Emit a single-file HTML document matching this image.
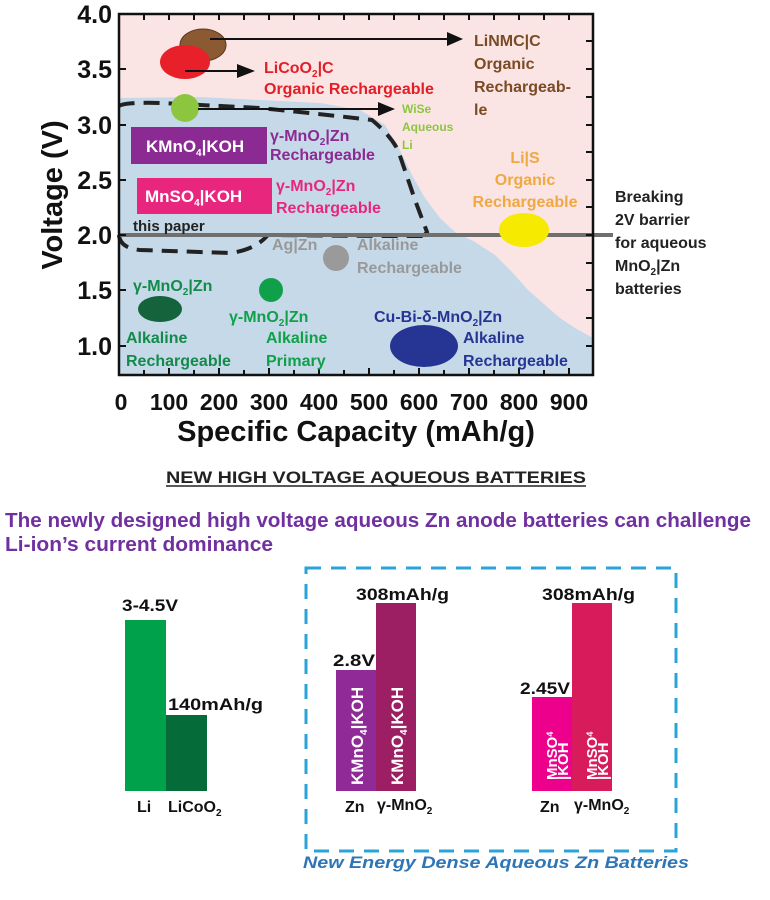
<!DOCTYPE html>
<html><head><meta charset="utf-8"><style>
html,body{margin:0;padding:0;background:#fff;}
svg{display:block;font-family:"Liberation Sans",Arial,sans-serif;font-weight:bold;}
</style></head><body>
<svg width="770" height="900" viewBox="0 0 770 900" xmlns="http://www.w3.org/2000/svg">
<rect x="119" y="14" width="474" height="361" fill="#fbe4e4"/>
<path d="M119,98 L200,97 L260,100 L320,103 L360,110 L385,125 L400,150 L412,175 L425,198 L440,218 L455,232 L475,242 L495,255 L512,272 L528,290 L545,305 L560,318 L575,328 L593,338 L593,375 L119,375 Z" fill="#c6d9e9"/>
<path d="M119,106 Q125,102 160,103 L260,108 Q330,115 372,120 Q390,135 398,150 L415,200 L427,232 L424,236" fill="none" stroke="#222" stroke-width="4" stroke-dasharray="16,9"/>
<path d="M119,235 Q120,248 140,250 L230,253 Q255,250 268,235 L380,236 L424,236" fill="none" stroke="#222" stroke-width="4" stroke-dasharray="16,9"/>
<line x1="119" y1="235" x2="613" y2="235" stroke="#6f6f70" stroke-width="4"/>
<rect x="119" y="14" width="474" height="361" fill="none" stroke="#111" stroke-width="2.5"/>
<g stroke="#111" stroke-width="2">
<line x1="119" y1="14" x2="126" y2="14"/><line x1="119" y1="69" x2="126" y2="69"/><line x1="119" y1="125" x2="126" y2="125"/><line x1="119" y1="180" x2="126" y2="180"/><line x1="119" y1="235" x2="126" y2="235"/><line x1="119" y1="290" x2="126" y2="290"/><line x1="119" y1="346" x2="126" y2="346"/>
<line x1="593" y1="41" x2="586" y2="41"/><line x1="593" y1="69" x2="586" y2="69"/><line x1="593" y1="97" x2="586" y2="97"/><line x1="593" y1="125" x2="586" y2="125"/><line x1="593" y1="152" x2="586" y2="152"/><line x1="593" y1="180" x2="586" y2="180"/><line x1="593" y1="207" x2="586" y2="207"/><line x1="593" y1="235" x2="586" y2="235"/><line x1="593" y1="263" x2="586" y2="263"/><line x1="593" y1="290" x2="586" y2="290"/><line x1="593" y1="318" x2="586" y2="318"/><line x1="593" y1="346" x2="586" y2="346"/>
</g>
<g stroke="#111" stroke-width="2">
<line x1="144" y1="375" x2="144" y2="370"/><line x1="169" y1="375" x2="169" y2="368"/><line x1="194" y1="375" x2="194" y2="370"/><line x1="219" y1="375" x2="219" y2="368"/><line x1="244" y1="375" x2="244" y2="370"/><line x1="269" y1="375" x2="269" y2="368"/><line x1="294" y1="375" x2="294" y2="370"/><line x1="319" y1="375" x2="319" y2="368"/><line x1="344" y1="375" x2="344" y2="370"/><line x1="369" y1="375" x2="369" y2="368"/><line x1="394" y1="375" x2="394" y2="370"/><line x1="419" y1="375" x2="419" y2="368"/><line x1="444" y1="375" x2="444" y2="370"/><line x1="469" y1="375" x2="469" y2="368"/><line x1="494" y1="375" x2="494" y2="370"/><line x1="519" y1="375" x2="519" y2="368"/><line x1="544" y1="375" x2="544" y2="370"/><line x1="569" y1="375" x2="569" y2="368"/>
<line x1="144" y1="14" x2="144" y2="20"/><line x1="169" y1="14" x2="169" y2="20"/><line x1="194" y1="14" x2="194" y2="20"/><line x1="219" y1="14" x2="219" y2="20"/><line x1="244" y1="14" x2="244" y2="20"/><line x1="269" y1="14" x2="269" y2="20"/><line x1="294" y1="14" x2="294" y2="20"/><line x1="319" y1="14" x2="319" y2="20"/><line x1="344" y1="14" x2="344" y2="20"/><line x1="369" y1="14" x2="369" y2="20"/><line x1="394" y1="14" x2="394" y2="20"/><line x1="419" y1="14" x2="419" y2="20"/><line x1="444" y1="14" x2="444" y2="20"/><line x1="469" y1="14" x2="469" y2="20"/><line x1="494" y1="14" x2="494" y2="20"/><line x1="519" y1="14" x2="519" y2="20"/><line x1="544" y1="14" x2="544" y2="20"/><line x1="569" y1="14" x2="569" y2="20"/>
</g>
<g font-size="25" fill="#111" text-anchor="end">
<text x="112" y="23">4.0</text><text x="112" y="78">3.5</text><text x="112" y="134">3.0</text><text x="112" y="189">2.5</text><text x="112" y="244">2.0</text><text x="112" y="299">1.5</text><text x="112" y="355">1.0</text>
</g>
<g font-size="23" fill="#111" text-anchor="middle">
<text x="121" y="410">0</text><text x="169" y="410">100</text><text x="219" y="410">200</text><text x="269" y="410">300</text><text x="319" y="410">400</text><text x="369" y="410">500</text><text x="419" y="410">600</text><text x="469" y="410">700</text><text x="519" y="410">800</text><text x="569" y="410">900</text>
</g>
<text x="356" y="441" font-size="29" text-anchor="middle" fill="#111">Specific Capacity (mAh/g)</text>
<text transform="translate(62,195) rotate(-90)" font-size="29" text-anchor="middle" fill="#111">Voltage (V)</text>
<ellipse cx="203" cy="45" rx="23" ry="16" fill="#8b5a32" stroke="#5a3a1f"/>
<ellipse cx="185" cy="62" rx="25" ry="17" fill="#e8202a"/>
<circle cx="185" cy="108" r="14" fill="#8cc63f"/>
<ellipse cx="160" cy="309" rx="22" ry="13" fill="#14633c"/>
<circle cx="271" cy="290" r="12" fill="#10a04a"/>
<circle cx="336" cy="258" r="13" fill="#9a9a9a"/>
<ellipse cx="424" cy="346" rx="34" ry="21" fill="#263593"/>
<ellipse cx="524" cy="230" rx="25" ry="17" fill="#f5ea00"/>
<g stroke="#111" stroke-width="2"><line x1="210" y1="39" x2="450" y2="39"/><line x1="185" y1="71" x2="240" y2="71"/><line x1="198" y1="109" x2="380" y2="109"/></g>
<g fill="#111"><polygon points="447,32 463,39 447,46"/><polygon points="237,64 255,71 237,78"/><polygon points="378,102 395,109 378,116"/></g>
<text x="264" y="73" font-size="16" fill="#e31e26">LiCoO<tspan font-size="10" dy="4">2</tspan><tspan dy="-4">|C</tspan></text>
<text x="264" y="94" font-size="16" fill="#e31e26">Organic Rechargeable</text>
<g font-size="16" fill="#7a4b25"><text x="474" y="46">LiNMC|C</text><text x="474" y="69">Organic</text><text x="474" y="92">Rechargeab-</text><text x="474" y="115">le</text></g>
<g font-size="12" fill="#8cc63f"><text x="402" y="113">WiSe</text><text x="402" y="131">Aqueous</text><text x="402" y="149">Li</text></g>
<g font-size="16" fill="#f0a842" text-anchor="middle"><text x="525" y="163">Li|S</text><text x="525" y="185">Organic</text><text x="525" y="207">Rechargeable</text></g>
<rect x="131" y="127" width="136" height="37" fill="#8b2a93"/>
<text x="146" y="152" font-size="17" fill="#fff">KMnO<tspan font-size="10" dy="4">4</tspan><tspan dy="-4">|KOH</tspan></text>
<text x="270" y="141" font-size="16" fill="#8b2a93">γ-MnO<tspan font-size="10" dy="4">2</tspan><tspan dy="-4">|Zn</tspan></text>
<text x="270" y="160" font-size="16" fill="#8b2a93">Rechargeable</text>
<rect x="137" y="178" width="135" height="36" fill="#e8267e"/>
<text x="145" y="202" font-size="17" fill="#fff">MnSO<tspan font-size="10" dy="4">4</tspan><tspan dy="-4">|KOH</tspan></text>
<text x="276" y="191" font-size="16" fill="#e8267e">γ-MnO<tspan font-size="10" dy="4">2</tspan><tspan dy="-4">|Zn</tspan></text>
<text x="276" y="213" font-size="16" fill="#e8267e">Rechargeable</text>
<text x="133" y="231" font-size="15" fill="#222">this paper</text>
<g font-size="16" fill="#999"><text x="272" y="250">Ag|Zn</text><text x="357" y="250">Alkaline</text><text x="357" y="273">Rechargeable</text></g>
<g font-size="16" fill="#148a4a"><text x="133" y="291">γ-MnO<tspan font-size="10" dy="4">2</tspan><tspan dy="-4">|Zn</tspan></text><text x="126" y="343">Alkaline</text><text x="126" y="366">Rechargeable</text></g>
<g font-size="16" fill="#10a04a"><text x="229" y="322">γ-MnO<tspan font-size="10" dy="4">2</tspan><tspan dy="-4">|Zn</tspan></text><text x="266" y="343">Alkaline</text><text x="266" y="366">Primary</text></g>
<g font-size="16" fill="#263593"><text x="374" y="322">Cu-Bi-δ-MnO<tspan font-size="10" dy="4">2</tspan><tspan dy="-4">|Zn</tspan></text><text x="463" y="343">Alkaline</text><text x="463" y="366">Rechargeable</text></g>
<g font-size="16" fill="#222"><text x="615" y="202">Breaking</text><text x="615" y="225">2V barrier</text><text x="615" y="248">for aqueous</text><text x="615" y="271">MnO<tspan font-size="10" dy="4">2</tspan><tspan dy="-4">|Zn</tspan></text><text x="615" y="294">batteries</text></g>
<text x="376" y="483" font-size="17" fill="#222" text-anchor="middle" textLength="420" lengthAdjust="spacingAndGlyphs">NEW HIGH VOLTAGE AQUEOUS BATTERIES</text>
<line x1="166" y1="486" x2="586" y2="486" stroke="#222" stroke-width="1.5"/>
<text x="5" y="527" font-size="20" fill="#7030a0" textLength="746" lengthAdjust="spacingAndGlyphs">The newly designed high voltage aqueous Zn anode batteries can challenge</text>
<text x="5" y="551" font-size="20" fill="#7030a0" textLength="268" lengthAdjust="spacingAndGlyphs">Li-ion’s current dominance</text>
<rect x="125" y="620" width="41" height="171" fill="#00a14b"/>
<rect x="166" y="715" width="41" height="76" fill="#056b38"/>
<text x="122" y="611" font-size="17" fill="#111" textLength="56" lengthAdjust="spacingAndGlyphs">3-4.5V</text>
<text x="168" y="710" font-size="17" fill="#111" textLength="95" lengthAdjust="spacingAndGlyphs">140mAh/g</text>
<text x="137" y="812" font-size="16" fill="#111">Li</text>
<text x="168" y="812" font-size="16" fill="#111">LiCoO<tspan font-size="10" dy="4">2</tspan></text>
<rect x="306" y="568" width="370" height="283" fill="none" stroke="#2aa3d8" stroke-width="3" stroke-dasharray="15,10"/>
<rect x="336" y="670" width="40" height="121" fill="#8f2a97"/>
<rect x="376" y="603" width="40" height="188" fill="#9c1f63"/>
<text x="333" y="666" font-size="17" fill="#111" textLength="42" lengthAdjust="spacingAndGlyphs">2.8V</text>
<text x="356" y="600" font-size="17" fill="#111" textLength="93" lengthAdjust="spacingAndGlyphs">308mAh/g</text>
<text transform="translate(363,785) rotate(-90)" font-size="17" fill="#fff">KMnO<tspan font-size="10" dy="4">4</tspan><tspan dy="-4">|KOH</tspan></text>
<text transform="translate(403,785) rotate(-90)" font-size="17" fill="#fff">KMnO<tspan font-size="10" dy="4">4</tspan><tspan dy="-4">|KOH</tspan></text>
<text x="345" y="812" font-size="16" fill="#111">Zn</text>
<text x="377" y="810" font-size="16" fill="#111">γ-MnO<tspan font-size="10" dy="4">2</tspan></text>
<rect x="532" y="697" width="40" height="94" fill="#ec008c"/>
<rect x="572" y="603" width="40" height="188" fill="#d81b5a"/>
<text x="520" y="694" font-size="17" fill="#111" textLength="50" lengthAdjust="spacingAndGlyphs">2.45V</text>
<text x="542" y="600" font-size="17" fill="#111" textLength="93" lengthAdjust="spacingAndGlyphs">308mAh/g</text>
<text transform="translate(557,780) rotate(-90)" font-size="15" fill="#fff">MnSO<tspan font-size="9" dy="-4">4</tspan></text>
<text transform="translate(568,780) rotate(-90)" font-size="15" fill="#fff">|KOH</text>
<text transform="translate(597,780) rotate(-90)" font-size="15" fill="#fff">MnSO<tspan font-size="9" dy="-4">4</tspan></text>
<text transform="translate(608,780) rotate(-90)" font-size="15" fill="#fff">|KOH</text>
<text x="540" y="812" font-size="16" fill="#111">Zn</text>
<text x="574" y="810" font-size="16" fill="#111">γ-MnO<tspan font-size="10" dy="4">2</tspan></text>
<text x="303" y="868" font-size="17" font-style="italic" fill="#2e75b6" textLength="386" lengthAdjust="spacingAndGlyphs">New Energy Dense Aqueous Zn Batteries</text>
</svg>
</body></html>
